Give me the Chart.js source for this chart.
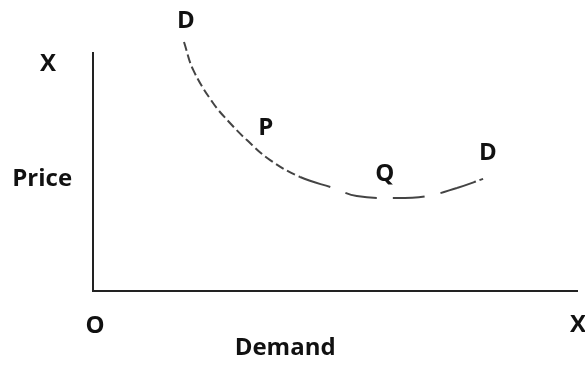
<!DOCTYPE html>
<html>
<head>
<meta charset="utf-8">
<script src="https://cdn.jsdelivr.net/npm/chart.js@4"></script>
<style>
  body { margin: 0; background: #fff; }
  #wrap { width: 585px; height: 365px; }
</style>
</head>
<body>
<div id="wrap"><canvas id="demandChart" width="585" height="365"></canvas></div>
<script>
// demand curve (x = demand, y = price, both 0..100)
var demandX = [18.8, 20.7, 24.8, 28.3, 31.8, 36.6, 42.8, 49.6, 54.5, 62.0, 69.0, 75.2, 80.6];
var priceY  = [104.6, 92.9, 79.0, 70.6, 63.4, 55.0, 47.9, 43.3, 39.9, 39.1, 39.9, 43.3, 47.1];

// text labels and where they sit, in the same data units
var labelText = ["D", "P", "Q", "D", "X", "Price", "O", "X", "Demand"];
var labelX    = [19.2, 35.7, 60.3, 81.6, -9.3, -10.5, 0.4, 100.2, 39.7];
var labelY    = [113.4, 68.5, 49.2, 58.0, 95.4, 47.1, -14.7, -14.3, -23.9];

var points = demandX.map(function (x, i) { return { x: x, y: priceY[i] }; });

var textPlugin = {
  id: "textLabels",
  afterDatasetsDraw: function (chart) {
    var ctx = chart.ctx;
    var xs = chart.scales.x, ys = chart.scales.y;
    ctx.save();
    ctx.fillStyle = "#111";
    ctx.font = "bold 24px 'Open Sans'";
    ctx.textAlign = "center";
    ctx.textBaseline = "middle";
    labelText.forEach(function (t, i) {
      ctx.fillText(t, xs.getPixelForValue(labelX[i]), ys.getPixelForValue(labelY[i]));
    });
    ctx.restore();
  }
};

var chart = new Chart("demandChart", {
  type: "line",
  data: {
    datasets: [{
      label: "Demand",
      data: points,
      borderColor: "#444",
      borderWidth: 2,
      pointRadius: 0,
      fill: false,
      clip: false,
      tension: 0.4,
      segment: {
        borderDash: function (ctx) {
          if (ctx.p0DataIndex < 6) return [9, 4];
          if (ctx.p0DataIndex >= 11) return [20, 4];
          return [32, 16];
        }
      }
    }]
  },
  options: {
    responsive: false,
    animation: false,
    layout: { padding: { left: 93, top: 53, right: 8, bottom: 74 } },
    plugins: { legend: { display: false }, tooltip: { enabled: false } },
    scales: {
      x: {
        type: "linear", min: 0, max: 100,
        ticks: { display: false },
        grid: { display: false, drawTicks: false },
        border: { display: true, color: "#222", width: 2 }
      },
      y: {
        type: "linear", min: 0, max: 100,
        ticks: { display: false },
        grid: { display: false, drawTicks: false },
        border: { display: true, color: "#222", width: 2 }
      }
    }
  },
  plugins: [textPlugin]
});
</script>
</body>
</html>
